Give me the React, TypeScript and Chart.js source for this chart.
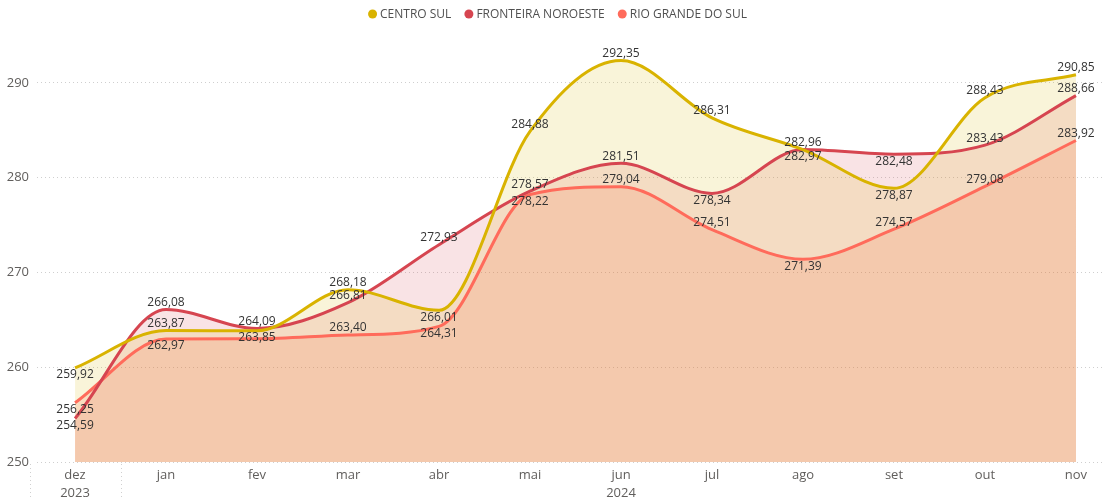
import React, { useEffect, useRef } from "react";
import { Chart, registerables } from "chart.js";

Chart.register(...registerables);

const months = ["dez", "jan", "fev", "mar", "abr", "mai", "jun", "jul", "ago", "set", "out", "nov"];
const monthYears = ["2023", "2024", "2024", "2024", "2024", "2024", "2024", "2024", "2024", "2024", "2024", "2024"];
const seriesNames = ["CENTRO SUL", "FRONTEIRA NOROESTE", "RIO GRANDE DO SUL"];
const centroSul = [259.92, 263.87, 263.85, 268.18, 266.01, 284.88, 292.35, 286.31, 282.96, 278.87, 288.43, 290.85];
const fronteiraNoroeste = [254.59, 266.08, 264.09, 266.81, 272.93, 278.57, 281.51, 278.34, 282.97, 282.48, 283.43, 288.66];
const rioGrandeDoSul = [256.25, 262.97, 263.0, 263.4, 264.31, 278.22, 279.04, 274.51, 271.39, 274.57, 279.08, 283.92];
const yTicks = [250, 260, 270, 280, 290];

// label placement: 1 above the point, -1 below, 0 hidden
const labelPlacement = [
  [-1, 1, -1, 1, -1, 1, 1, 1, 1, -1, 1, 1],
  [-1, 1, 1, 1, 1, 1, 1, -1, -1, -1, 1, 1],
  [-1, -1, 0, 1, -1, -1, 1, 1, -1, 1, 1, 1],
];

const lineColors = ["#D9B300", "#D64550", "#FF6B5B"];
const fillColors = ["rgba(217,179,0,0.15)", "rgba(214,69,80,0.15)", "rgba(255,107,91,0.18)"];
const FONT = "'Open Sans', 'Noto Sans', sans-serif";

const pointLabelPlugin = {
  id: "pointLabels",
  afterDatasetsDraw(chart: any) {
    const ctx = chart.ctx;
    ctx.save();
    ctx.font = `12px ${FONT}`;
    ctx.fillStyle = "#333333";
    ctx.textAlign = "center";
    ctx.textBaseline = "middle";
    chart.data.datasets.forEach((ds: any, di: number) => {
      const meta = chart.getDatasetMeta(di);
      const pos = labelPlacement[di];
      meta.data.forEach((pt: any, i: number) => {
        if (!pos[i]) return;
        const v = ds.data[i].y as number;
        ctx.fillText(v.toFixed(2).replace(".", ","), pt.x, pt.y - pos[i] * 7);
      });
    });
    ctx.restore();
  },
};

const legendPlugin = {
  id: "customLegend",
  afterDraw(chart: any) {
    const ctx = chart.ctx;
    ctx.save();
    ctx.font = `12px ${FONT}`;
    ctx.textBaseline = "middle";
    ctx.textAlign = "left";
    const r = 4.5;
    const gapCircleText = 3;
    const gapItems = 13;
    const items = chart.data.datasets.map((ds: any) => ({
      label: ds.label as string,
      color: ds.borderColor as string,
      w: ctx.measureText(ds.label).width,
    }));
    const total = items.reduce((s: number, it: any) => s + r * 2 + gapCircleText + it.w, 0) + gapItems * (items.length - 1);
    let x = chart.width / 2 + 5 - total / 2;
    const y = 14;
    items.forEach((it: any) => {
      ctx.fillStyle = it.color;
      ctx.beginPath();
      ctx.arc(x + r, y, r, 0, Math.PI * 2);
      ctx.fill();
      x += r * 2 + gapCircleText;
      ctx.fillStyle = "#505050";
      ctx.fillText(it.label, x, y + 0.5);
      x += it.w + gapItems;
    });
    ctx.restore();
  },
};

const yearPlugin = {
  id: "yearRow",
  afterDraw(chart: any) {
    const ctx = chart.ctx;
    const xs = chart.scales.x;
    const bottom = chart.chartArea.bottom;
    const groups: { year: string; start: number; end: number }[] = [];
    monthYears.forEach((y, i) => {
      const last = groups[groups.length - 1];
      if (last && last.year === y) last.end = i;
      else groups.push({ year: y, start: i, end: i });
    });
    ctx.save();
    ctx.font = `13px ${FONT}`;
    ctx.fillStyle = "#605E5C";
    ctx.textAlign = "center";
    ctx.textBaseline = "middle";
    ctx.strokeStyle = "#D0D0D0";
    ctx.lineWidth = 1;
    ctx.setLineDash([1, 3]);
    groups.forEach((g) => {
      const cx = (xs.getPixelForValue(g.start) + xs.getPixelForValue(g.end)) / 2;
      ctx.fillText(g.year, cx, bottom + 31);
      const sx = Math.round(xs.getPixelForValue(g.start - 0.5)) + 0.5;
      ctx.beginPath();
      ctx.moveTo(sx, bottom + 2);
      ctx.lineTo(sx, chart.height);
      ctx.stroke();
    });
    ctx.restore();
  },
};

export default function App() {
  const canvasRef = useRef<HTMLCanvasElement | null>(null);

  useEffect(() => {
    document.body.style.margin = "0";
    const canvas = canvasRef.current;
    if (!canvas) return;
    const series = [centroSul, fronteiraNoroeste, rioGrandeDoSul];
    const chart = new Chart(canvas, {
      type: "line",
      data: {
        datasets: series.map((vals, si) => ({
          label: seriesNames[si],
          data: vals.map((y, i) => ({ x: i, y })),
          borderColor: lineColors[si],
          backgroundColor: fillColors[si],
          borderWidth: 3,
          pointRadius: 0,
          pointHoverRadius: 0,
          cubicInterpolationMode: "monotone",
          fill: "start",
        })),
      },
      options: {
        animation: false,
        responsive: false,
        devicePixelRatio: 1,
        layout: { padding: { top: 26, left: 0, right: 0, bottom: 0 } },
        plugins: {
          legend: { display: false },
          tooltip: { enabled: false },
          filler: { drawTime: "beforeDatasetsDraw" },
        },
        scales: {
          x: {
            type: "linear",
            min: -0.418,
            max: 11.319,
            grid: { display: false },
            border: { display: false },
            afterBuildTicks: (scale: any) => {
              scale.ticks = months.map((_, i) => ({ value: i }));
            },
            afterFit: (scale: any) => {
              scale.height = 38;
            },
            ticks: {
              autoSkip: false,
              maxRotation: 0,
              padding: -3,
              color: "#605E5C",
              font: { family: FONT, size: 13 },
              callback: (v: any) => months[v as number] ?? "",
            },
          },
          y: {
            type: "linear",
            min: 250,
            max: 296,
            border: { display: false, dash: [1, 3] },
            grid: { color: "#CFCFCF", drawTicks: false, lineWidth: 1 },
            afterBuildTicks: (scale: any) => {
              scale.ticks = yTicks.map((v) => ({ value: v }));
            },
            afterFit: (scale: any) => {
              scale.width = 37;
            },
            ticks: {
              includeBounds: false,
              padding: 8,
              color: "#605E5C",
              font: { family: FONT, size: 13 },
            },
          },
        },
      } as any,
      plugins: [pointLabelPlugin, legendPlugin, yearPlugin],
    });
    return () => chart.destroy();
  }, []);

  return (
    <div style={{ position: "absolute", left: 0, top: 0, width: 1105, height: 500, background: "#fff" }}>
      <canvas ref={canvasRef} width={1105} height={500} />
    </div>
  );
}
